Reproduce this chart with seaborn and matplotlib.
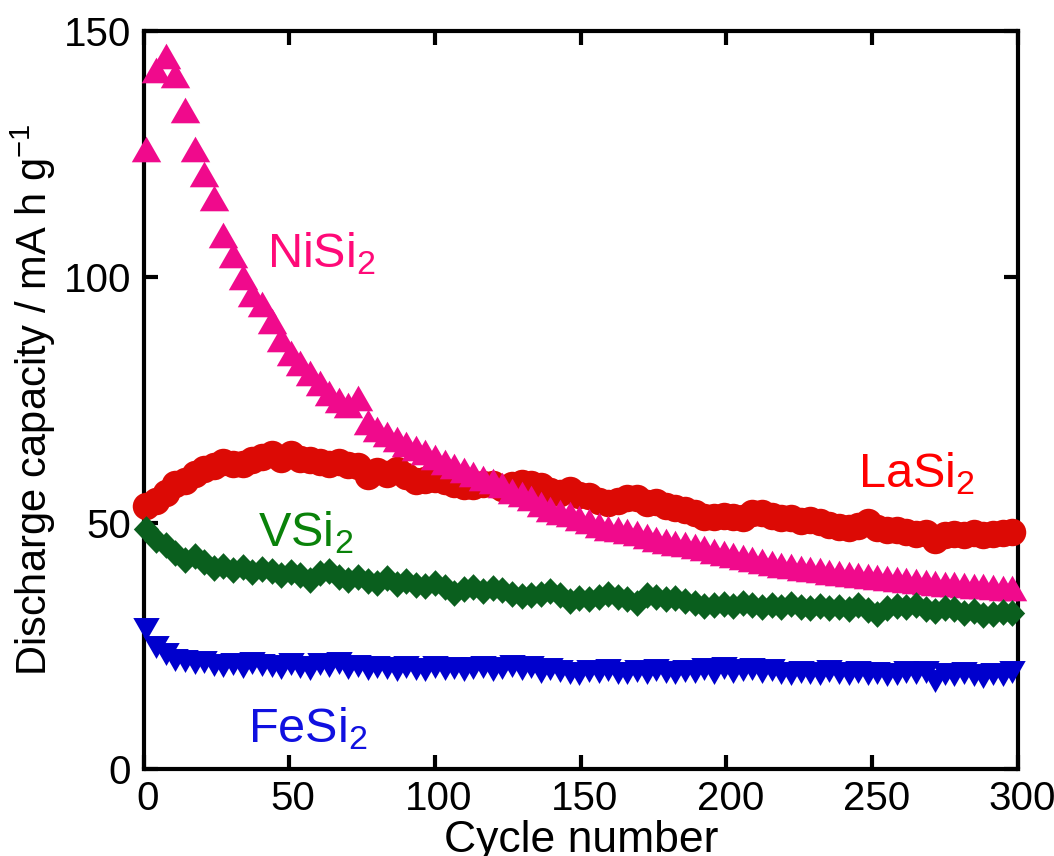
import numpy as np
import pandas as pd
import matplotlib
matplotlib.use("Agg")
import matplotlib.pyplot as plt
import matplotlib.transforms as mtrans
import seaborn as sns

# ---------------- data ----------------
cycles = np.round(np.linspace(1, 298, 91), 1)

nisi2 = [126, 142, 145, 141, 134, 126, 121, 116, 108.5, 104.5,
         100, 96.5, 94.5, 91, 87.5, 84.5, 82.5, 80.5, 78.5, 76.5,
         75, 74, 75.5, 70.5, 69.2, 68, 67, 66, 65.2, 64.5,
         63.5, 62.5, 61.5, 60.8, 60, 59.2, 58.5, 57.8, 56.5, 55.8,
         55, 53.8, 52.8, 52.2, 51.8, 51, 50.5, 49.6, 49, 48.8,
         48.3, 48, 47.4, 46.8, 46.4, 46, 45.8, 45.4, 45, 44.4,
         44, 43.4, 43, 42.6, 42.2, 41.8, 41.5, 41.2, 40.9, 40.6,
         40.4, 40.1, 39.8, 39.6, 39.4, 39.2, 39, 38.9, 38.6, 38.4,
         38.2, 38, 37.9, 37.7, 37.6, 37.4, 37.2, 37.1, 36.9, 36.8, 36.7]

lasi2 = [53.5, 54.5, 56, 58, 58.5, 60, 61, 61.5, 62.5, 62,
         62, 62.8, 63.5, 64, 63, 64, 63, 62.8, 62.5, 62,
         62.3, 61.8, 61.5, 59.5, 60.5, 60, 60.8, 59.5, 58.5, 58.8,
         59, 58.5, 58, 57.5, 57.5, 58, 58, 57.2, 57.8, 58.2,
         58, 57.5, 56.5, 56.2, 56.8, 55.7, 55.5, 54.5, 54, 54.5,
         55, 55, 54, 54.2, 53.5, 53, 52.6, 52, 51.3, 51.3,
         51.5, 51.3, 51, 52, 52, 51.5, 51, 51, 50.5, 50.6,
         50.3, 49.5, 49.2, 49, 49.3, 50.3, 49, 48.6, 48.6, 48.2,
         47.8, 47.9, 46.6, 47.5, 47.8, 47.6, 47.9, 47.5, 47.8, 48, 48.2]

vsi2 = [48.8, 46.5, 45.5, 44, 42.5, 43.2, 42, 40.8, 41.2, 40.5,
        41, 40, 40.6, 40.2, 39.5, 40, 39.5, 38.4, 39.8, 40.3,
        39, 38.5, 39, 38.2, 37.8, 38.9, 37.7, 38.3, 37.5, 37.3,
        37.8, 36.9, 35.8, 36.5, 36.9, 36.2, 36.8, 36.3, 35.6, 35.1,
        35.3, 35.6, 36.2, 35.3, 34.2, 34.8, 34.5, 35, 35.5, 34.9,
        34.6, 33.8, 35.4, 34.9, 34.5, 34.8, 34.2, 33.8, 33.1, 33.3,
        33.6, 33.2, 33.8, 33.4, 33, 33.3, 32.9, 33.5, 33, 32.7,
        33.2, 32.8, 33, 32.5, 33.4, 32.4, 31.6, 32.8, 33.2, 33,
        33.3, 32.6, 32.2, 32.8, 32.5, 31.8, 32.2, 31.3, 31.6, 32, 31.7]

fesi2 = [28.5, 24.8, 23.3, 22.2, 22, 21.5, 21.8, 21.2, 21, 21.3,
         20.7, 21.5, 21.2, 21, 20.6, 21.3, 20.8, 20.4, 21.4, 20.9,
         21.5, 20.6, 20.9, 20.3, 20.8, 20.5, 20.1, 20.7, 20.4, 20.2,
         20.7, 20.3, 20.6, 20.1, 20.5, 20.8, 20.2, 20.6, 20.9, 20.4,
         20.7, 19.8, 20.3, 19.9, 19.6, 19.4, 20, 19.7, 20.1, 19.6,
         19.5, 19.9, 19.6, 20.2, 19.8, 19.5, 20, 19.7, 20.3, 19.6,
         20.5, 19.8, 20.2, 20.4, 19.7, 20.1, 19.5, 19.3, 19.8, 19.6,
         19.4, 19.9, 19.5, 19.3, 19.8, 19.4, 19.6, 19.2, 19.4, 19.7,
         19.5, 19.8, 17.8, 19.3, 19.1, 19.5, 19.2, 18.8, 19.4, 19.1, 19.8]

x_ticks = [0, 50, 100, 150, 200, 250, 300]
y_ticks = [0, 50, 100, 150]

# ---------------- style ----------------
sns.set_theme(style="ticks")
plt.rcParams['font.family'] = ['Liberation Sans', 'DejaVu Sans']
plt.rcParams['mathtext.fontset'] = 'custom'
plt.rcParams['mathtext.rm'] = 'Liberation Sans'
plt.rcParams['mathtext.it'] = 'Liberation Sans:italic'
plt.rcParams['mathtext.bf'] = 'Liberation Sans:bold'
plt.rcParams['text.color'] = 'black'
plt.rcParams['axes.labelcolor'] = 'black'
plt.rcParams['xtick.color'] = 'black'
plt.rcParams['ytick.color'] = 'black'

fig = plt.figure(figsize=(10.54, 8.56), dpi=100)
ax = fig.add_axes([0.1362, 0.1016, 0.8296, 0.8622])

up_tri = [(0, 1), (-1.15, -1), (1.15, -1)]
down_tri = [(0, -1), (-1.15, 1), (1.15, 1)]
diamond = [(0, 1), (0.95, 0), (0, -1), (-0.95, 0)]

series = [
    ("LaSi2", lasi2, "o", 19.8, "#DC0A05"),
    ("NiSi2", nisi2, up_tri, 21.2, "#F00A8C"),
    ("VSi2", vsi2, diamond, 19.2, "#0A5F1E"),
    ("FeSi2", fesi2, down_tri, 19.0, "#0000CD"),
]

for name, vals, mk, ms, col in series:
    df = pd.DataFrame({"cycle": cycles, "cap": vals})
    sns.scatterplot(data=df, x="cycle", y="cap", ax=ax, marker=mk, s=ms ** 2,
                    color=col, edgecolor=col, linewidth=0, clip_on=False,
                    zorder=3, legend=False)

ax.set_xlim(0, 300)
ax.set_ylim(0, 150)
ax.set_xticks(x_ticks)
ax.set_yticks(y_ticks)
ax.set_xticklabels([str(t) for t in x_ticks])
ax.set_yticklabels([str(t) for t in y_ticks])

ax.tick_params(direction='in', length=10, width=3, top=True, right=True,
               labelsize=29, pad=9, colors='black')
ax.tick_params(axis='x', pad=8)
for sp in ax.spines.values():
    sp.set_linewidth(3)
    sp.set_color('black')
    sp.set_visible(True)

offset = mtrans.ScaledTranslation(4 / 100, 0, fig.dpi_scale_trans)
for lab in ax.get_xticklabels():
    lab.set_transform(lab.get_transform() + offset)

ax.set_xlabel("Cycle number", fontsize=32, labelpad=1, color='black')
ax.set_ylabel(r"Discharge capacity / mA h g$^{\mathregular{-1}}$", fontsize=30,
              labelpad=4, color='black')

ax.text(42.4, 102, r"NiSi$_\mathregular{2}$", color="#FF0A78", fontsize=35, ha='left', va='baseline')
ax.text(245, 57.2, r"LaSi$_\mathregular{2}$", color="#FF0000", fontsize=35, ha='left', va='baseline')
ax.text(39.3, 45.2, r"VSi$_\mathregular{2}$", color="#0A820A", fontsize=35, ha='left', va='baseline')
ax.text(35.9, 5.5, r"FeSi$_\mathregular{2}$", color="#1010E0", fontsize=35, ha='left', va='baseline')

ax.grid(False)
fig.savefig("out.png", dpi=100)
